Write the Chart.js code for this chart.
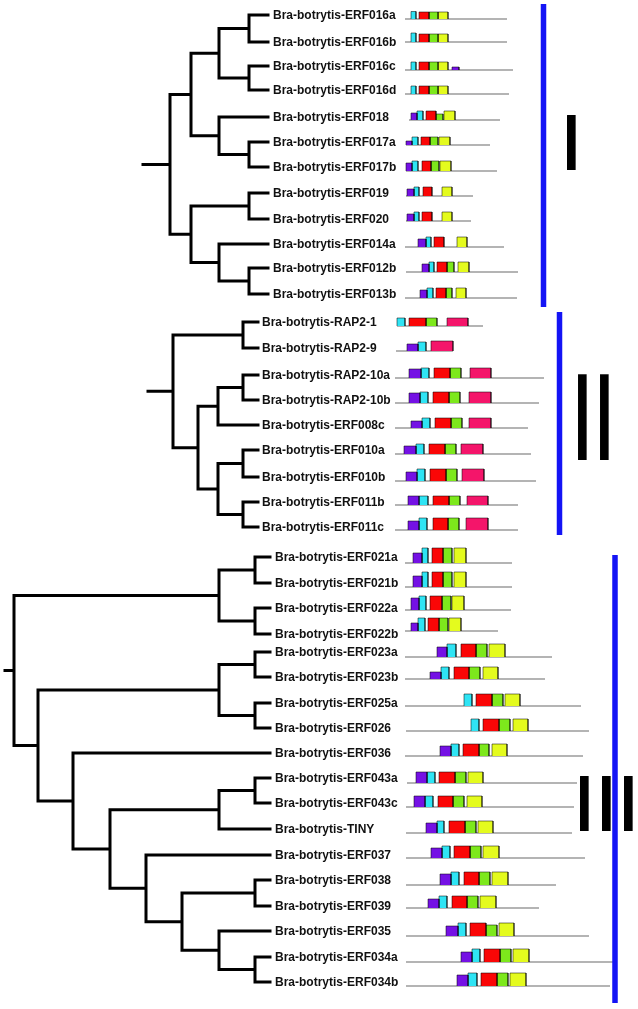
<!DOCTYPE html>
<html>
<head>
<meta charset="utf-8">
<script src="https://cdn.jsdelivr.net/npm/chart.js@4.4.0/dist/chart.umd.min.js"></script>
<style>
  html, body { margin: 0; padding: 0; background: #fff; }
  canvas { display: block; }
</style>
</head>
<body>
<canvas id="tree" width="638" height="1009"></canvas>
<script>
// gene names per group, top to bottom
const namesI = ['ERF016a', 'ERF016b', 'ERF016c', 'ERF016d', 'ERF018', 'ERF017a', 'ERF017b',
  'ERF019', 'ERF020', 'ERF014a', 'ERF012b', 'ERF013b'];
const namesII = ['RAP2-1', 'RAP2-9', 'RAP2-10a', 'RAP2-10b', 'ERF008c', 'ERF010a', 'ERF010b',
  'ERF011b', 'ERF011c'];
const namesIII = ['ERF021a', 'ERF021b', 'ERF022a', 'ERF022b', 'ERF023a', 'ERF023b', 'ERF025a',
  'ERF026', 'ERF036', 'ERF043a', 'ERF043c', 'TINY', 'ERF037', 'ERF038', 'ERF039', 'ERF035',
  'ERF034a', 'ERF034b'];

// row position of every leaf
const rowsI = [15, 42, 66, 90, 117, 142, 167, 193, 219, 244, 268, 294];
const rowsII = [322, 348, 375, 400, 425, 450, 477, 502, 527];
const rowsIII = [557, 583, 608, 634, 652, 677, 703, 728, 753, 778, 803, 829, 855, 880, 906, 931, 957, 982];

// trees: [node depth, ...children], a number is a leaf row index
const treeI = [170,
  [191, [219, [249, 0, 1], [249, 2, 3]], [219, 4, [249, 5, 6]]],
  [191, [249, 7, 8], [219, 9, [249, 10, 11]]]];
const treeII = [173,
  [243, 0, 1],
  [198, [218, [243, 2, 3], 4], [218, [243, 5, 6], [243, 7, 8]]]];
const treeIII = [14,
  [219, [255, 0, 1], [255, 2, 3]],
  [38, [219, [255, 4, 5], [255, 6, 7]],
    [73, 8, [110, [219, [255, 9, 10], 11],
      [146, 12, [182, [255, 13, 14], [219, 15, [255, 16, 17]]]]]]]];

// protein extent (start, end) and baseline
const startI = [405, 405, 405, 405, 409, 406, 406, 406, 406, 405, 406, 405];
const endI = [507, 507, 513, 509, 500, 490, 497, 473, 471, 504, 518, 517];
const baseI = [19, 42, 70, 94, 120, 145, 171, 196, 221, 247, 272, 298];
const startII = [397, 396, 395, 395, 395, 395, 395, 395, 395];
const endII = [483, 453, 544, 539, 528, 531, 536, 518, 518];
const baseII = [326, 351, 378, 403, 428, 454, 481, 505, 530];
const startIII = [405, 405, 405, 405, 405, 405, 405, 406, 405, 407, 406, 406, 406, 406, 406, 406, 406, 406];
const endIII = [512, 512, 511, 498, 552, 545, 581, 589, 583, 577, 574, 572, 585, 556, 539, 589, 613, 610];
const baseIII = [563, 587, 610, 631, 657, 679, 706, 731, 756, 783, 807, 833, 858, 885, 908, 936, 962, 986];

// motifs per protein: [motif, from, to, top]
const motifsI = [
  [['C', 411, 416, 11.5], ['R', 419, 429, 12], ['G', 429, 438, 12], ['Y', 438, 448, 12]],
  [['C', 411, 416, 33], ['R', 419, 429, 34], ['G', 429, 438, 34], ['Y', 438, 448, 34]],
  [['C', 411, 416, 62], ['R', 419, 429, 62], ['G', 429, 438, 62], ['Y', 438, 448, 62], ['P', 452, 459, 67]],
  [['C', 411, 416, 86], ['R', 419, 429, 86], ['G', 429, 438, 86], ['Y', 438, 448, 86]],
  [['P', 411, 417, 113], ['C', 417, 423, 111], ['R', 426, 436, 111], ['G', 436, 443, 114], ['Y', 444, 455, 111]],
  [['P', 406, 412, 141], ['C', 412, 418, 137], ['R', 421, 430, 137], ['G', 430, 438, 137], ['Y', 439, 450, 137]],
  [['P', 406, 412, 163], ['C', 412, 418, 161], ['R', 422, 431, 161], ['G', 431, 439, 161], ['Y', 440, 451, 161]],
  [['P', 407, 414, 189], ['C', 414, 419, 187], ['R', 423, 432, 187], ['Y', 442, 452, 187]],
  [['P', 407, 414, 214], ['C', 414, 419, 212], ['R', 422, 432, 212], ['Y', 442, 452, 212]],
  [['P', 418, 426, 239], ['C', 426, 431, 237], ['R', 434, 444, 237], ['Y', 457, 467, 237]],
  [['P', 422, 429, 264], ['C', 429, 434, 262], ['R', 437, 447, 262], ['G', 447, 454, 262], ['Y', 458, 469, 262]],
  [['P', 420, 427, 290], ['C', 427, 433, 288], ['R', 436, 446, 288], ['G', 446, 452, 288], ['Y', 456, 466, 288]]
];
const motifsII = [
  [['C', 397, 405, 318], ['R', 409, 426, 318], ['G', 426, 437, 318], ['K', 447, 468, 318]],
  [['P', 407, 418, 344], ['C', 418, 426, 342], ['K', 431, 453, 341]],
  [['P', 409, 421, 369], ['C', 421, 429, 368], ['R', 434, 450, 368], ['G', 450, 461, 368], ['K', 470, 491, 368]],
  [['P', 409, 420, 393], ['C', 420, 428, 392], ['R', 433, 449, 392], ['G', 449, 460, 392], ['K', 469, 491, 392]],
  [['P', 411, 422, 421], ['C', 422, 430, 418], ['R', 435, 451, 418], ['G', 451, 462, 418], ['K', 469, 491, 418]],
  [['P', 404, 416, 446], ['C', 416, 424, 444], ['R', 429, 445, 444], ['G', 445, 456, 444], ['K', 461, 483, 444]],
  [['P', 406, 417, 472], ['C', 417, 425, 469], ['R', 430, 446, 469], ['G', 446, 457, 469], ['K', 462, 484, 469]],
  [['P', 408, 419, 496], ['C', 419, 428, 496], ['R', 433, 449, 496], ['G', 449, 460, 496], ['K', 467, 488, 496]],
  [['P', 408, 419, 521], ['C', 419, 427, 518], ['R', 433, 448, 518], ['G', 448, 459, 518], ['K', 466, 488, 518]]
];
const motifsIII = [
  [['P', 413, 422, 553], ['C', 422, 428, 548], ['R', 432, 443, 548], ['G', 443, 452, 548], ['Y', 454, 466, 548]],
  [['P', 413, 422, 576], ['C', 422, 428, 572], ['R', 432, 443, 572], ['G', 443, 452, 572], ['Y', 454, 466, 572]],
  [['P', 411, 419, 598], ['C', 419, 426, 596], ['R', 430, 442, 596], ['G', 442, 451, 596], ['Y', 452, 464, 596]],
  [['P', 411, 418, 623], ['C', 418, 425, 618], ['R', 428, 439, 618], ['G', 439, 448, 618], ['Y', 449, 461, 618]],
  [['P', 437, 447, 647], ['C', 447, 456, 644], ['R', 461, 476, 644], ['G', 476, 487, 644], ['Y', 489, 505, 644]],
  [['P', 430, 441, 672], ['C', 441, 449, 667], ['R', 454, 469, 667], ['G', 469, 480, 667], ['Y', 483, 498, 667]],
  [['C', 464, 472, 694], ['R', 476, 492, 694], ['G', 492, 503, 694], ['Y', 505, 520, 694]],
  [['C', 471, 479, 719], ['R', 483, 499, 719], ['G', 499, 510, 719], ['Y', 513, 528, 719]],
  [['P', 440, 451, 746], ['C', 451, 459, 744], ['R', 463, 479, 744], ['G', 479, 489, 744], ['Y', 492, 507, 744]],
  [['P', 416, 427, 772], ['C', 427, 435, 772], ['R', 439, 455, 772], ['G', 455, 466, 772], ['Y', 468, 483, 772]],
  [['P', 414, 425, 796], ['C', 425, 433, 796], ['R', 438, 453, 796], ['G', 453, 464, 796], ['Y', 467, 482, 796]],
  [['P', 426, 437, 823], ['C', 437, 444, 821], ['R', 449, 465, 821], ['G', 465, 476, 821], ['Y', 478, 493, 821]],
  [['P', 431, 442, 848], ['C', 442, 450, 846], ['R', 454, 470, 846], ['G', 470, 481, 846], ['Y', 483, 499, 846]],
  [['P', 440, 451, 874], ['C', 451, 459, 872], ['R', 464, 479, 872], ['G', 479, 490, 872], ['Y', 492, 508, 872]],
  [['P', 428, 439, 899], ['C', 439, 447, 896], ['R', 452, 467, 896], ['G', 467, 478, 896], ['Y', 480, 496, 896]],
  [['P', 446, 458, 926], ['C', 458, 466, 923], ['R', 470, 486, 923], ['G', 486, 497, 925], ['Y', 499, 514, 923]],
  [['P', 461, 472, 952], ['C', 472, 480, 949], ['R', 484, 500, 949], ['G', 500, 511, 949], ['Y', 513, 529, 949]],
  [['P', 457, 468, 975], ['C', 468, 477, 973], ['R', 481, 497, 973], ['G', 497, 508, 973], ['Y', 510, 526, 973]]
];

// group names and the extent of each group bracket
const groupNames = ['I', 'II', 'III'];
const groupSpan = [[4, 307], [312, 535], [555, 1003]];

// ---- layout / style (not data) ----
const PREFIX = 'Bra-botrytis-';
const motifColors = { P: '#7411e4', C: '#2fe4f4', R: '#fa0606', G: '#7de81c', Y: '#e4fb1e', K: '#f4156a' };
const panels = [
  { names: namesI, rows: rowsI, tree: treeI, leafX: 268, labelX: 273, stubX: 143,
    start: startI, end: endI, base: baseI, motifs: motifsI, bracketX: 543.5, numeral: [567, 115, 170] },
  { names: namesII, rows: rowsII, tree: treeII, leafX: 258, labelX: 262, stubX: 148,
    start: startII, end: endII, base: baseII, motifs: motifsII, bracketX: 559.5, numeral: [578, 375, 460] },
  { names: namesIII, rows: rowsIII, tree: treeIII, leafX: 270, labelX: 275, stubX: 5,
    start: startIII, end: endIII, base: baseIII, motifs: motifsIII, bracketX: 615, numeral: [580, 776, 831] }
];

const GAP = { x: null, y: null };

function walk(node, p, pts) {
  if (typeof node === 'number') return { x: p.leafX, y: p.rows[node] };
  const [nx, ...kids] = node;
  const ends = kids.map(k => walk(k, p, pts));
  const y0 = ends[0].y, y1 = ends[ends.length - 1].y;
  pts.push({ x: nx, y: y0 }, { x: nx, y: y1 }, GAP);
  ends.forEach(e => pts.push({ x: nx, y: e.y }, { x: e.x, y: e.y }, GAP));
  return { x: nx, y: (y0 + y1) / 2 };
}

const treePts = [];
const stemPts = [];
const bracketPts = [];
const boxSets = [];
panels.forEach((p, gi) => {
  const root = walk(p.tree, p, treePts);
  treePts.push({ x: p.stubX, y: root.y }, { x: root.x, y: root.y }, GAP);
  p.names.forEach((n, i) => {
    stemPts.push({ x: p.start[i], y: p.base[i] }, { x: p.end[i], y: p.base[i] }, GAP);
    p.motifs[i].forEach(([m, a, b, top]) => {
      boxSets.push({
        data: [{ x: a, y: p.base[i] }, { x: a, y: top }, { x: b, y: top }, { x: b, y: p.base[i] }],
        backgroundColor: motifColors[m],
        borderColor: 'rgba(0,0,0,0.5)',
        borderWidth: 1,
        fill: { value: p.base[i] },
        order: 0
      });
    });
  });
  bracketPts.push({ x: p.bracketX, y: groupSpan[gi][0] }, { x: p.bracketX, y: groupSpan[gi][1] }, GAP);
});

const labelPlugin = {
  id: 'labels',
  afterDatasetsDraw(chart) {
    const { ctx, scales: { x, y } } = chart;
    ctx.save();
    ctx.fillStyle = '#111';
    ctx.font = 'bold 12px "Liberation Sans", Arial, sans-serif';
    ctx.textBaseline = 'middle';
    ctx.textAlign = 'left';
    panels.forEach(p => {
      p.names.forEach((n, i) => {
        ctx.fillText(PREFIX + n, x.getPixelForValue(p.labelX), y.getPixelForValue(p.rows[i]) + 0.5);
      });
    });
    // roman numerals, stretched into tall bars
    ctx.font = 'bold 60px "Liberation Sans", Arial, sans-serif';
    ctx.textBaseline = 'alphabetic';
    ctx.fillStyle = '#000';
    const m = ctx.measureText('I');
    const stem = m.actualBoundingBoxLeft + m.actualBoundingBoxRight;
    const sx = 9 / stem;
    const pitch = 22;
    panels.forEach((p, gi) => {
      const [nx, ny0, ny1] = p.numeral;
      const px = x.getPixelForValue(nx);
      const top = y.getPixelForValue(ny0), bot = y.getPixelForValue(ny1);
      const sy = (bot - top) / m.actualBoundingBoxAscent;
      ctx.save();
      ctx.letterSpacing = (pitch / sx - m.width) + 'px';
      ctx.translate(px, bot);
      ctx.scale(sx, sy);
      ctx.fillText(groupNames[gi], m.actualBoundingBoxLeft, 0);
      ctx.restore();
    });
    ctx.restore();
  }
};

new Chart(document.getElementById('tree'), {
  type: 'line',
  data: {
    datasets: [
      ...boxSets,
      { data: treePts, borderColor: '#000', borderWidth: 3, borderCapStyle: 'square',
        borderJoinStyle: 'miter', fill: false, order: 5 },
      { data: bracketPts, borderColor: '#1414f5', borderWidth: 5.5, borderCapStyle: 'butt', fill: false, order: 5 },
      { data: stemPts, borderColor: '#9c9c9c', borderWidth: 1.3, fill: false, order: 10 }
    ]
  },
  options: {
    responsive: false,
    animation: false,
    devicePixelRatio: 1,
    events: [],
    layout: { padding: 0 },
    spanGaps: false,
    elements: { point: { radius: 0, hoverRadius: 0 }, line: { tension: 0 } },
    plugins: { legend: { display: false }, tooltip: { enabled: false } },
    scales: {
      x: { type: 'linear', min: 0, max: 638, display: false },
      y: { type: 'linear', min: 0, max: 1009, reverse: true, display: false }
    }
  },
  plugins: [labelPlugin]
});
</script>
</body>
</html>
